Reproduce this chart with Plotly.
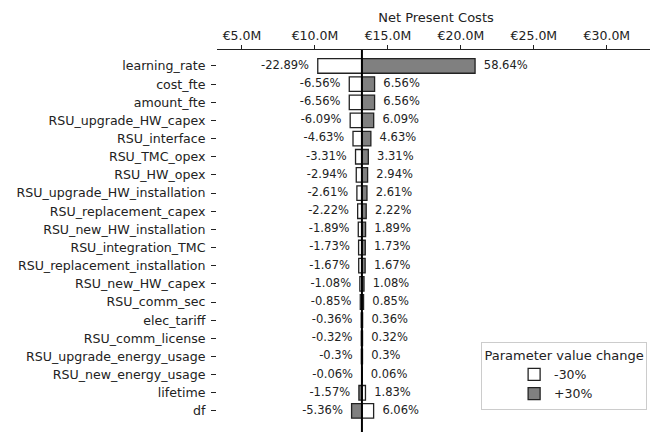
import plotly.graph_objects as go

# Net Present Costs at base parameter values (million EUR)
BASE_NPC = 13.22

params = [
    "learning_rate", "cost_fte", "amount_fte", "RSU_upgrade_HW_capex", "RSU_interface",
    "RSU_TMC_opex", "RSU_HW_opex", "RSU_upgrade_HW_installation", "RSU_replacement_capex",
    "RSU_new_HW_installation", "RSU_integration_TMC", "RSU_replacement_installation",
    "RSU_new_HW_capex", "RSU_comm_sec", "elec_tariff", "RSU_comm_license",
    "RSU_upgrade_energy_usage", "RSU_new_energy_usage", "lifetime", "df",
]
# % change of NPC when the parameter is changed by -30% / +30%
minus_30 = [-22.89, -6.56, -6.56, -6.09, -4.63, -3.31, -2.94, -2.61, -2.22, -1.89,
            -1.73, -1.67, -1.08, -0.85, -0.36, -0.32, -0.3, -0.06, 1.83, 6.06]
plus_30 = [58.64, 6.56, 6.56, 6.09, 4.63, 3.31, 2.94, 2.61, 2.22, 1.89,
           1.73, 1.67, 1.08, 0.85, 0.36, 0.32, 0.3, 0.06, -1.57, -5.36]

tick_vals = [5, 10, 15, 20, 25, 30]
tick_text = ["€5.0M", "€10.0M", "€15.0M", "€20.0M", "€25.0M", "€30.0M"]

FONT = "DejaVu Sans"
GAP = 0.6  # label offset from bar end, in M

fig = go.Figure()
for name, pcts, fill in [("-30%", minus_30, "white"), ("+30%", plus_30, "#808080")]:
    fig.add_trace(go.Bar(
        y=params, x=[BASE_NPC * p / 100 for p in pcts], base=BASE_NPC,
        orientation="h", name=name, width=0.8,
        marker=dict(color=fill, line=dict(color="#222222", width=1.3)),
    ))

lo = [min(a, b) for a, b in zip(minus_30, plus_30)]
hi = [max(a, b) for a, b in zip(minus_30, plus_30)]
fig.add_trace(go.Scatter(
    y=params, x=[BASE_NPC * (1 + p / 100) - GAP for p in lo], mode="text",
    text=[f"{p}%" for p in lo], textposition="middle left",
    textfont=dict(family=FONT, size=11.5, color="#222222"), showlegend=False, hoverinfo="skip",
))
fig.add_trace(go.Scatter(
    y=params, x=[BASE_NPC * (1 + p / 100) + GAP for p in hi], mode="text",
    text=[f"{p}%" for p in hi], textposition="middle right",
    textfont=dict(family=FONT, size=11.5, color="#222222"), showlegend=False, hoverinfo="skip",
))

fig.add_shape(type="line", x0=BASE_NPC, x1=BASE_NPC, y0=0, y1=1, yref="paper",
              line=dict(color="black", width=2), layer="above")

# page body adds an 8px margin, so the figure is 8px smaller than the window
fig.update_layout(
    width=650, height=426,
    margin=dict(l=209, r=3, t=42, b=2),
    barmode="overlay",
    plot_bgcolor="white", paper_bgcolor="white",
    font=dict(family=FONT, size=12, color="#222222"),
    xaxis=dict(
        side="top", range=[3.29, 33.3], tickvals=tick_vals, ticktext=tick_text,
        ticks="outside", ticklen=4, tickcolor="#222222", showline=True, linecolor="#222222",
        linewidth=1, showgrid=False, zeroline=False, automargin=False,
        tickfont=dict(size=12.5),
        title=dict(text="Net Present Costs", standoff=2, font=dict(size=13)),
    ),
    yaxis=dict(
        categoryorder="array", categoryarray=params, range=[20.16, -0.88],
        ticks="outside", ticklen=5, tickcolor="#222222", showline=False, showgrid=False,
        zeroline=False, automargin=False, tickfont=dict(size=12.6), ticklabelstandoff=3,
    ),
    legend=dict(
        x=0.982, y=0.236, xanchor="right", yanchor="top",
        title=dict(text="Parameter value change", side="top center", font=dict(size=13)),
        bordercolor="#cccccc", borderwidth=1, bgcolor="white",
        indentation=32, traceorder="normal", font=dict(size=12.5),
    ),
)

fig.write_html("out.html")
